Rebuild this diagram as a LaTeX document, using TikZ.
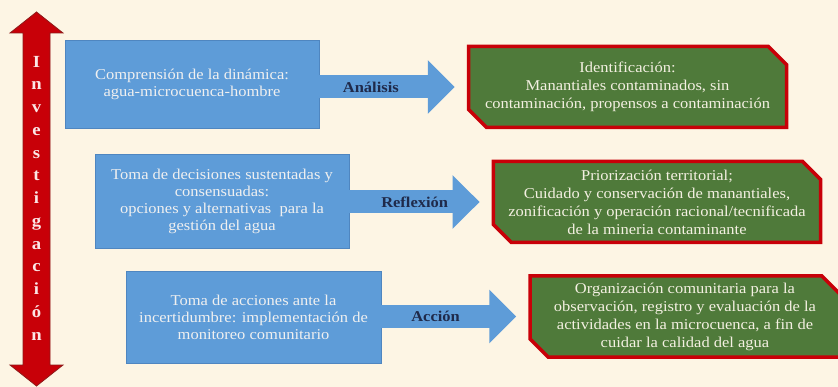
\documentclass[tikz,border=0pt]{standalone}
\usepackage{fontspec}
\setmainfont{Liberation Serif}[FakeStretch=1.1]
\usetikzlibrary{shapes.misc,arrows.meta,positioning}
\definecolor{fondo}{HTML}{FDF5E4}
\definecolor{azul}{HTML}{5E9CD8}
\definecolor{azulborde}{HTML}{4F86C0}
\definecolor{verde}{HTML}{4F7A3A}
\definecolor{rojo}{HTML}{C80008}
\definecolor{rojoborde}{HTML}{8E1A1A}
\definecolor{marino}{HTML}{1F2A4A}
\definecolor{crema}{HTML}{F4F0E2}
\definecolor{rosado}{HTML}{FBE6E6}

\begin{document}
\begin{tikzpicture}[x=1pt,y=-1pt,
bluenode/.style={rectangle, draw=azulborde, fill=azul, text=white!94!black, align=center, inner sep=0pt, minimum width=254pt, font=\fontsize{15}{17}\selectfont},
greennode/.style={chamfered rectangle, chamfered rectangle corners={north east,south west}, chamfered rectangle xsep=15pt, draw=rojo, line width=3.5pt, fill=verde, text=crema, align=center, inner sep=0pt, minimum width=318pt, minimum height=81pt, font=\fontsize{15}{18}\selectfont},
flowarrow/.style={draw=azul, line width=23pt, -{Triangle[length=27pt,width=52pt]}, shorten >=12pt},
flowlabel/.style={text=marino, font=\bfseries\fontsize{15}{17}\selectfont},
]
\useasboundingbox (0,0) rectangle (838,387);
\fill[fondo] (0,0) rectangle (838,387);

% flecha vertical
\filldraw[fill=rojo, draw=rojoborde, line width=0.8pt] (36.5,12) -- (63,33) -- (50,33) -- (50,365) -- (63,365) -- (36.5,386) -- (10,365) -- (23,365) -- (23,33) -- (10,33) -- cycle;
\node[text=rosado, align=center, font=\bfseries\fontsize{17}{22.75}\selectfont] (investigacion) at (36.5,198) {I\\n\\v\\e\\s\\t\\i\\g\\a\\c\\i\\ó\\n};

% cajas azules
\node[bluenode, minimum height=88pt] (comprension) at (192,84) {Comprensión de la dinámica:\\agua-microcuenca-hombre};
\node[bluenode, minimum height=94pt] (decisiones) at (222,201) {Toma de decisiones sustentadas y\\consensuadas:\\opciones y alternativas\ \ para la\\gestión del agua};
\node[bluenode, minimum height=92pt, minimum width=255pt] (acciones) at (253.5,317) {Toma de acciones ante la\\incertidumbre: implementación de\\monitoreo comunitario};

% cajas verdes
\node[greennode] (identificacion) at (627.5,87) {Identificación:\\Manantiales contaminados, sin\\contaminación, propensos a contaminación};
\node[greennode] (priorizacion) at (657,202) {Priorización territorial;\\Cuidado y conservación de manantiales,\\zonificación y operación racional/tecnificada\\de la mineria contaminante};
\node[greennode, minimum width=310pt] (organizacion) at (685,316.5) {Organización comunitaria para la\\observación, registro y evaluación de la\\actividades en la microcuenca, a fin de\\cuidar la calidad del agua};

% flechas
\draw[flowarrow] (comprension.east |- identificacion.west) -- (identificacion.west) node[flowlabel, pos=0.35] {Análisis};
\draw[flowarrow] (decisiones.east |- priorizacion.west) -- (priorizacion.west) node[flowlabel, pos=0.46] {Reflexión};
\draw[flowarrow] (acciones.east |- organizacion.west) -- (organizacion.west) node[flowlabel, pos=0.37] {Acción};
\end{tikzpicture}
\end{document}
